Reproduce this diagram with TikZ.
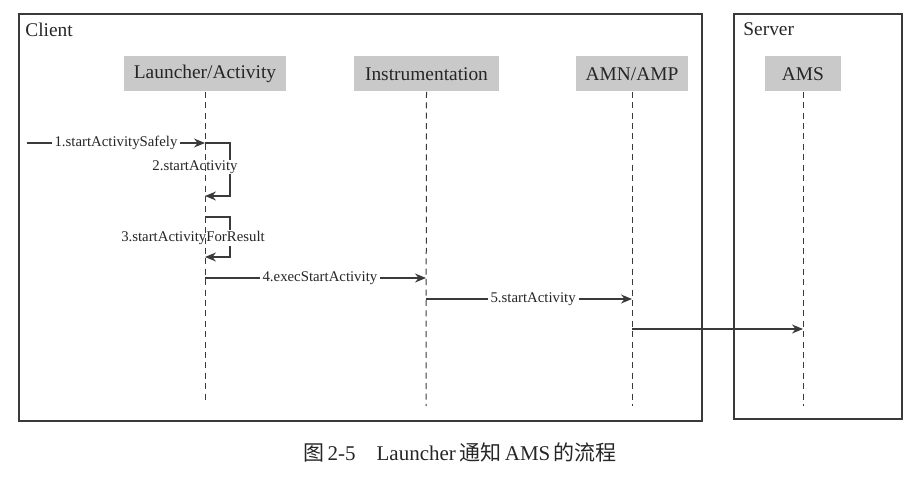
\documentclass[tikz,border=0pt]{standalone}
\usepackage{fontspec}
\setmainfont{Liberation Serif}
\newfontfamily\cjkfont{Noto Sans CJK SC}
\usetikzlibrary{arrows.meta}
\definecolor{ln}{HTML}{3A3A3A}
\definecolor{hd}{HTML}{C9C9C9}
\begin{document}
\begin{tikzpicture}[x=0.5pt,y=-0.5pt,
  frame/.style={draw=ln,line width=0.7pt},
  head/.style={fill=hd,draw=none,minimum height=17.5pt,inner sep=0pt,font=\fontsize{9.7}{11}\selectfont,text=black!85},
  life/.style={draw=ln,dashed,line width=0.5pt,dash pattern=on 3pt off 2.2pt},
  msg/.style={draw=ln,line width=0.6pt,-{Stealth[length=5.5pt,width=4.5pt]}},
  lbl/.style={font=\fontsize{7.4}{9}\selectfont,text=black!85,inner sep=1pt},
  lblw/.style={lbl,fill=white,inner xsep=1.5pt}]
\useasboundingbox (0,0) rectangle (921,481);
% frames
\draw[frame] (19,14) rectangle (702,421);
\draw[frame] (734,14) rectangle (902,419);
\node[anchor=west,font=\fontsize{9.7}{11}\selectfont,text=black!85,inner sep=0pt] (client) at (25,30) {Client};
\node[anchor=west,font=\fontsize{9.7}{11}\selectfont,text=black!85,inner sep=0pt] (server) at (743,29) {Server};
% heads
\node[head,minimum width=81pt] (la) at (205,74) {Launcher/Activity};
\node[head,minimum width=72.5pt] (ins) at (426.5,74) {Instrumentation};
\node[head,minimum width=56pt] (amn) at (632,74) {AMN/AMP};
\node[head,minimum width=38pt] (ams) at (803,74) {AMS};
% self calls (drawn before the lifelines so labels hide the loop, not the lifeline)
\coordinate (s2) at (205,143);
\coordinate (e2) at (205,196);
\draw[msg] (s2) -- (230,143) -- (230,196) -- (e2);
\node[lbl,fill=white,inner sep=0.5pt] (l2) at (195,167) {2.startActivity};
\coordinate (s3) at (205,217);
\coordinate (e3) at (205,257);
\draw[msg] (s3) -- (230,217) -- (230,257) -- (e3);
\node[lbl,fill=white,inner sep=0.5pt] (l3) at (193,238) {3.startActivityForResult};
% lifeline ends
\coordinate (laE) at (205,401);
\coordinate (insE) at (426,406);
\coordinate (amnE) at (632,406);
\coordinate (amsE) at (803,406);
\draw[life] (la.south) -- (laE);
\draw[life] (ins.south) -- (insE);
\draw[life] (amn.south) -- (amnE);
\draw[life] (ams.south) -- (amsE);
% messages
\coordinate (s1) at (27,143);
\coordinate (e1) at (205,143);
\draw[msg] (s1) -- node[lblw] (l1) {1.startActivitySafely} (e1);
\coordinate (s4) at (205,278);
\coordinate (e4) at (426,278);
\draw[msg] (s4) -- node[lblw,pos=0.52] (l4) {4.execStartActivity} (e4);
\coordinate (s5) at (426,299);
\coordinate (e5) at (632,299);
\draw[msg] (s5) -- node[lblw,pos=0.52] (l5) {5.startActivity} (e5);
\coordinate (s6) at (632,329);
\coordinate (e6) at (803,329);
\draw[msg] (s6) -- (e6);
% caption
\node[font=\fontsize{10.5}{12}\selectfont,text=black!85] (cap) at (460,452) {{\cjkfont 图}\,2-5\quad Launcher\,{\cjkfont 通知}\,AMS\,{\cjkfont 的流程}};
\end{tikzpicture}
\end{document}
